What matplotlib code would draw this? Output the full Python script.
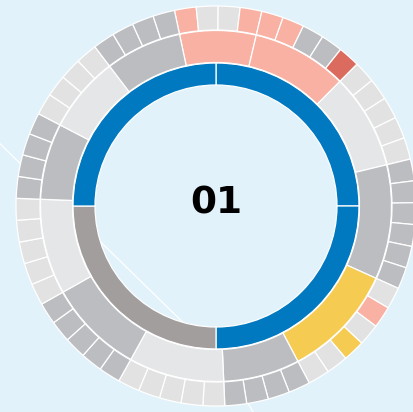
import numpy as np
import matplotlib.pyplot as plt

# colours
bg_color = '#e1f2fa'
blue = '#0079c1'
dark_gray = '#a29e9d'
gray = '#bcbdc1'
light_gray = '#e5e6e8'
light_gray_outer = '#e2e2e3'
pink = '#f8b1a2'
red = '#dc6b5f'
yellow = '#f5cb52'

# inner ring: quarters
quarter_sizes = [1, 1, 1, 1]
quarter_colors = [blue, blue, dark_gray, blue]

# middle ring: months, sized by number of weeks
month_weeks = [4, 5, 5, 6, 6, 4, 5, 5, 5, 4, 4, 4]
month_colors = [pink, pink, light_gray, gray, yellow, gray,
                light_gray, gray, light_gray, gray, light_gray, gray]

# outer ring: one cell per week
week_codes = (['p', 'l', 'l', 'p'] +
              ['p', 'p', 'g', 'g', 'r'] +
              ['l'] * 5 +
              ['g'] * 6 +
              ['l', 'p', 'l', 'y', 'l', 'l'] +
              ['g'] * 4 +
              ['l'] * 5 +
              ['g'] * 5 +
              ['l'] * 5 +
              ['g'] * 4 +
              ['l'] * 4 +
              ['g'] * 4)
code_colors = {'p': pink, 'l': light_gray_outer, 'g': gray, 'r': red, 'y': yellow}
week_colors = [code_colors[c] for c in week_codes]

center_label = '01'

# faint white lines in the background
bg_lines = [((-226, 72), (-16, -133)),
            ((29, -192), (40, -211))]

fig = plt.figure(figsize=(4.14, 4.12), dpi=100)
fig.patch.set_facecolor(bg_color)
ax = fig.add_axes([0, 0, 1, 1])

for (x0, y0), (x1, y1) in bg_lines:
    ax.plot([x0, x1], [y0, y1], color='white', linewidth=0.9, zorder=0)

edge = dict(edgecolor='white', linewidth=0.9)
month_start = 90 + 12.0

ax.pie(quarter_sizes, radius=143, colors=quarter_colors, startangle=90,
       counterclock=False, wedgeprops=dict(width=22, **edge))
ax.pie(month_weeks, radius=175.5, colors=month_colors, startangle=month_start,
       counterclock=False, wedgeprops=dict(width=32, **edge))
ax.pie([1] * len(week_colors), radius=200, colors=week_colors, startangle=month_start,
       counterclock=False, wedgeprops=dict(width=24, **edge))

ax.text(0, 3, center_label, ha='center', va='center', fontsize=27,
        fontweight='bold', color='black')

ax.set_xlim(-216, 198)
ax.set_ylim(-206, 206)
ax.set_aspect('equal')
ax.axis('off')

fig.savefig('out.png', dpi=100, facecolor=bg_color)
